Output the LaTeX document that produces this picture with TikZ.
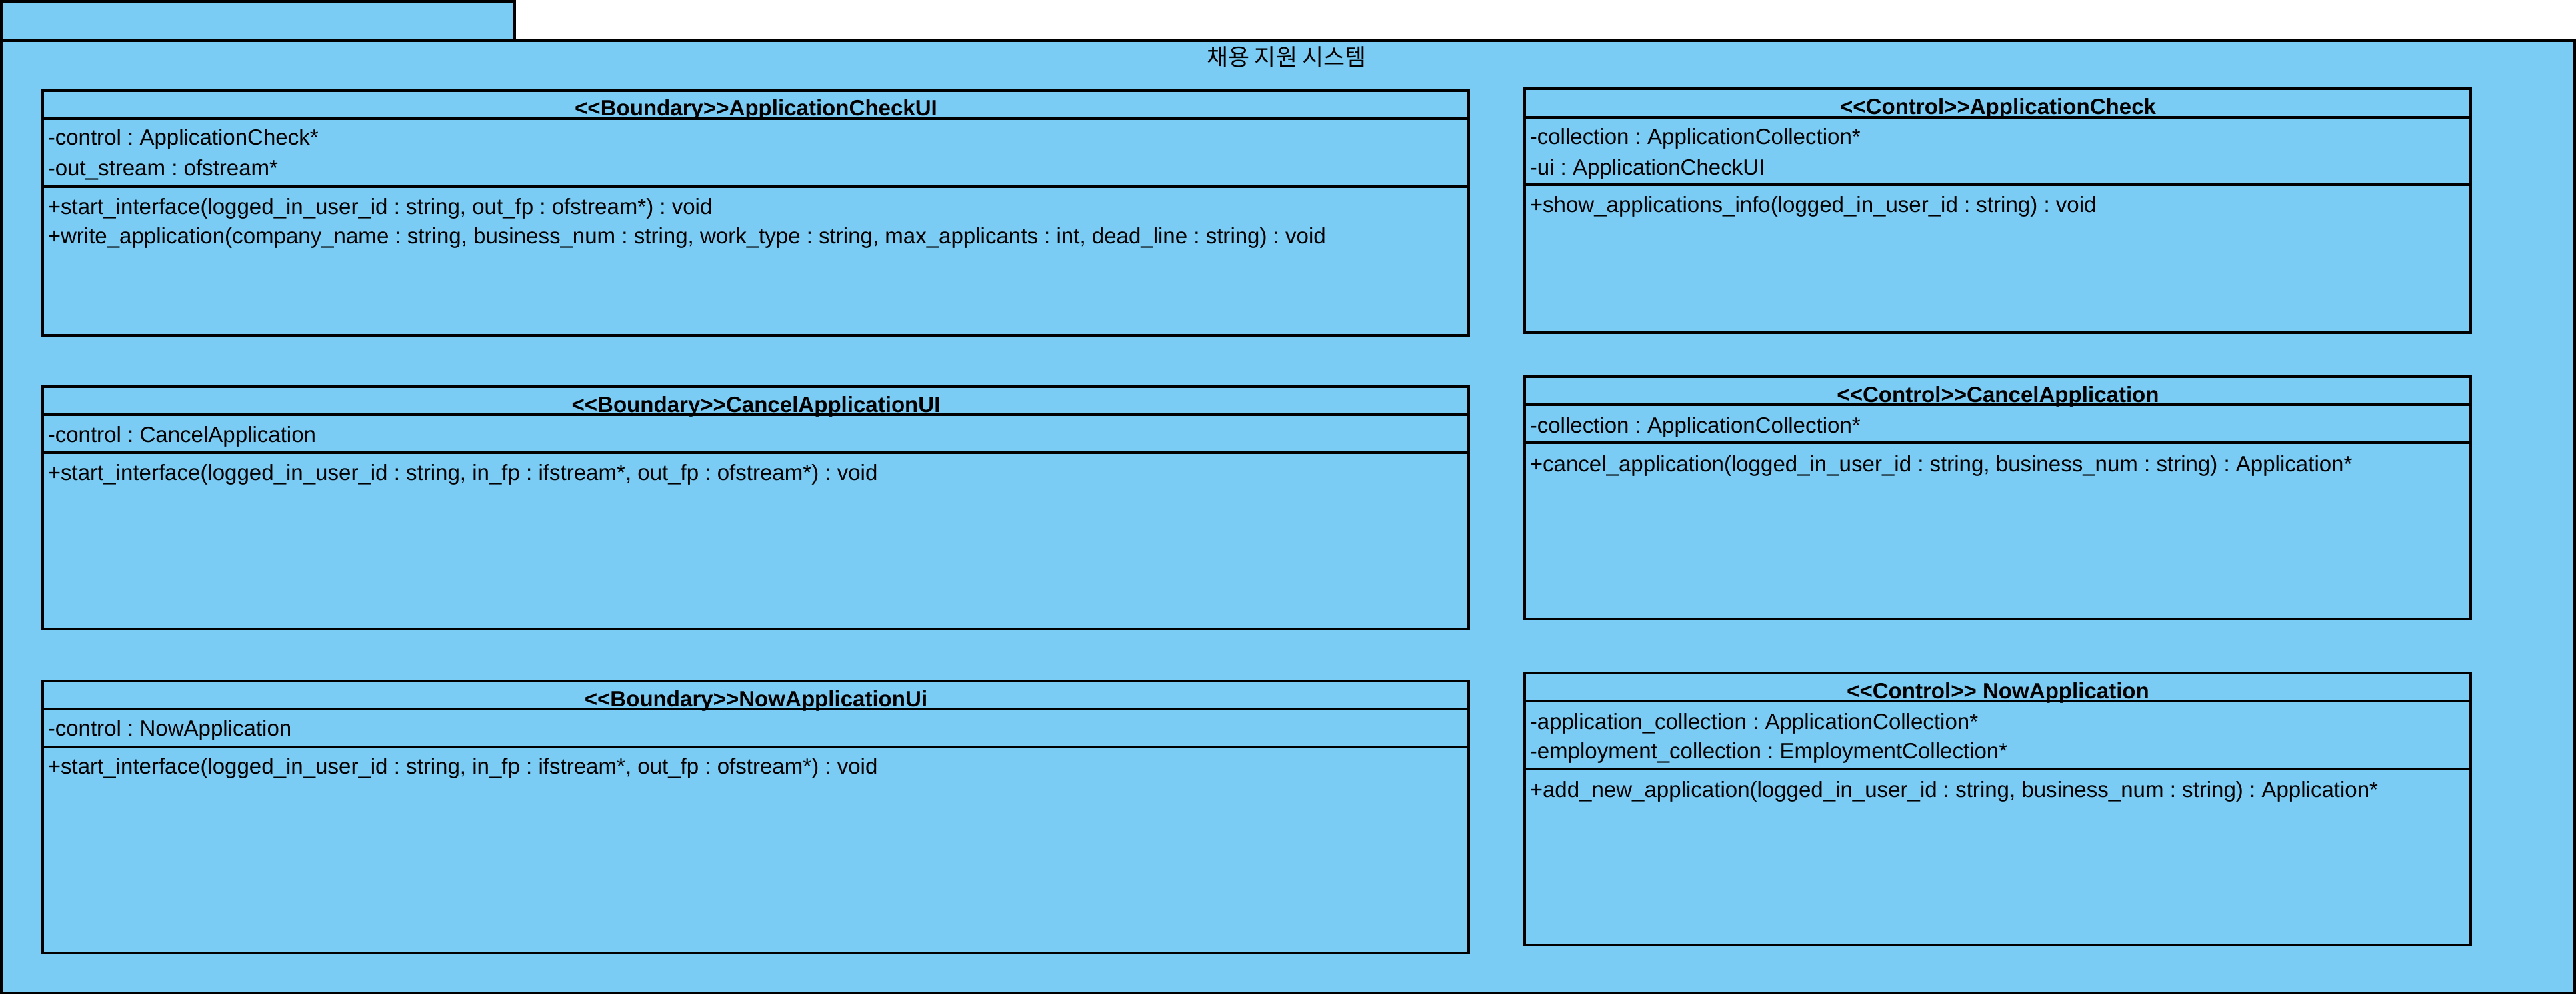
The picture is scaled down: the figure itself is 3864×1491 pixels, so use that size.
\documentclass[tikz,border=0pt]{standalone}
\usepackage{fontspec}
\setmainfont{Liberation Sans}
\newfontfamily\krfont{Noto Sans CJK KR}
\definecolor{pkgblue}{RGB}{122,204,245}
\frenchspacing

\begin{document}
\begin{tikzpicture}[x=0.01cm, y=-0.01cm, line width=1pt,
    pkgframe/.style = {draw, fill=pkgblue},
    classbox/.style = {draw, fill=pkgblue},
    classname/.style = {anchor=base, inner sep=0pt, font=\fontsize{9.4pt}{11pt}\selectfont\bfseries},
    member/.style = {anchor=base west, inner sep=0pt, font=\fontsize{9.4pt}{11pt}\selectfont}]
    \useasboundingbox (0,0) rectangle (3864,1491);

    % package frame with tab
    \draw[pkgframe] (2,2) rectangle (772,61);
    \draw[pkgframe] (2,61) rectangle (3862,1489);
    \node (title) at (1930,99) [anchor=base, inner sep=0pt, font=\krfont\fontsize{9.9pt}{11pt}\selectfont] {채용 지원 시스템};

    % <<Boundary>> ApplicationCheckUI
    \draw[classbox] (64,136) rectangle (2203,503);
    \draw (64,178) -- (2203,178);
    \draw (64,280) -- (2203,280);
    \node (checkuiname) at (1134,174) [classname] {<{}<Boundary>{}>ApplicationCheckUI};
    \node (checkuictl) at (70,218) [member] {-control : ApplicationCheck*};
    \node (checkuiout) at (70,263) [member] {-out\_stream : ofstream*};
    \node (checkuistart) at (70,321) [member] {+start\_interface(logged\_in\_user\_id : string, out\_fp : ofstream*) : void};
    \node (checkuiwrite) at (70,365) [member] {+write\_application(company\_name : string, business\_num : string, work\_type : string, max\_applicants : int, dead\_line : string) : void};

    % <<Boundary>> CancelApplicationUI
    \draw[classbox] (64,580) rectangle (2203,943);
    \draw (64,622) -- (2203,622);
    \draw (64,679) -- (2203,679);
    \node (canceluiname) at (1134,618) [classname] {<{}<Boundary>{}>CancelApplicationUI};
    \node (canceluictl) at (70,663) [member] {-control : CancelApplication};
    \node (canceluistart) at (70,720) [member] {+start\_interface(logged\_in\_user\_id : string, in\_fp : ifstream*, out\_fp : ofstream*) : void};

    % <<Boundary>> NowApplicationUi
    \draw[classbox] (64,1021) rectangle (2203,1429);
    \draw (64,1063) -- (2203,1063);
    \draw (64,1120) -- (2203,1120);
    \node (nowuiname) at (1134,1059) [classname] {<{}<Boundary>{}>NowApplicationUi};
    \node (nowuictl) at (70,1103) [member] {-control : NowApplication};
    \node (nowuistart) at (70,1160) [member] {+start\_interface(logged\_in\_user\_id : string, in\_fp : ifstream*, out\_fp : ofstream*) : void};

    % <<Control>> ApplicationCheck
    \draw[classbox] (2287,133) rectangle (3706,499);
    \draw (2287,176) -- (3706,176);
    \draw (2287,277) -- (3706,277);
    \node (checkname) at (2997,172) [classname] {<{}<Control>{}>ApplicationCheck};
    \node (checkcoll) at (2293,217) [member] {-collection : ApplicationCollection*};
    \node (checkui) at (2293,262) [member] {-ui : ApplicationCheckUI};
    \node (checkshow) at (2293,318) [member] {+show\_applications\_info(logged\_in\_user\_id : string) : void};

    % <<Control>> CancelApplication
    \draw[classbox] (2287,565) rectangle (3706,928);
    \draw (2287,607) -- (3706,607);
    \draw (2287,664) -- (3706,664);
    \node (cancelname) at (2997,603) [classname] {<{}<Control>{}>CancelApplication};
    \node (cancelcoll) at (2293,649) [member] {-collection : ApplicationCollection*};
    \node (cancelop) at (2293,707) [member] {+cancel\_application(logged\_in\_user\_id : string, business\_num : string) : Application*};

    % <<Control>> NowApplication
    \draw[classbox] (2287,1009) rectangle (3706,1417);
    \draw (2287,1051) -- (3706,1051);
    \draw (2287,1153) -- (3706,1153);
    \node (nowname) at (2997,1047) [classname] {<{}<Control>{}> NowApplication};
    \node (nowappcoll) at (2293,1093) [member] {-application\_collection : ApplicationCollection*};
    \node (nowempcoll) at (2293,1137) [member] {-employment\_collection : EmploymentCollection*};
    \node (nowadd) at (2293,1195) [member] {+add\_new\_application(logged\_in\_user\_id : string, business\_num : string) : Application*};

\end{tikzpicture}
\end{document}
